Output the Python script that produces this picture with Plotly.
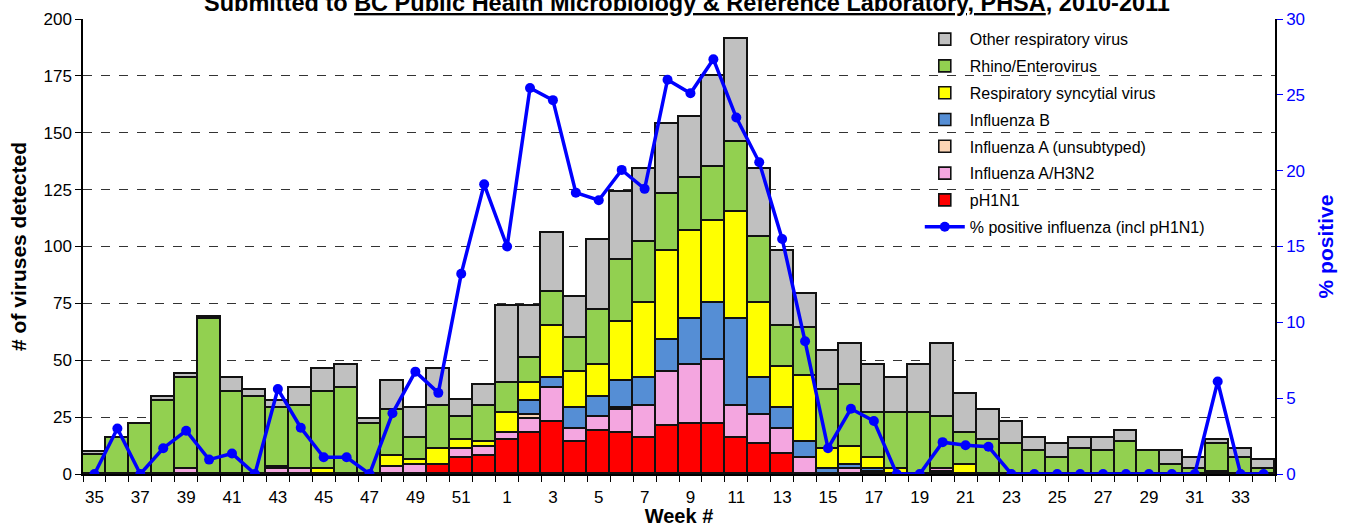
import plotly.graph_objects as go

weeks = [str(w) for w in list(range(35, 53)) + list(range(1, 35))]

ph1n1 = [0,0,0,0,0,0,0,0,0,0,0,0,0,0,0,4,7,8,
         15,18,23,14,19,18,16,21,22,22,16,13,9,
         0,0,0,1,0,0,1,0,0,0,0,0,0,0,0,0,0,0,0,0,0]
h3n2 = [0,0,0,0,2,0,0,0,2,2,0,0,0,3,4,0,4,4,
        3,6,15,6,6,10,14,24,26,28,14,13,11,
        7,0,2,0,0,0,1,0,0,0,0,0,0,0,0,0,0,0,1,0,0]
flu_a_unsub = [0,0,0,0,0,0,0,0,0,0,0,0,0,0,0,0,0,0,
               0,2,0,0,0,1,0,0,0,0,0,0,0,
               0,0,0,0,0,0,0,0,0,0,0,0,0,0,0,0,0,0,0,0,0]
flu_b = [0,0,0,0,0,0,0,0,0,0,0,0,0,0,0,0,0,0,
         0,6,4,9,9,12,12,14,20,25,38,16,9,
         7,2,2,1,0,0,0,0,0,0,0,0,0,0,0,0,0,0,0,0,0]
rsv = [0,0,0,0,0,0,0,0,1,0,2,0,0,5,2,7,4,2,
       9,8,23,16,14,26,33,39,39,36,47,33,18,
       29,9,8,5,2,0,0,4,0,0,0,0,0,0,0,0,0,0,0,0,0]
rhino = [8.5,16,22,32,40,68,36,34,26,28,34,38,22,20,10,19,10,16,
         13,11,15,15,24,27,27,25,23,24,31,29,18,
         21,26,27,20,25,27,23,14,15,13,10,7,11,10,14,10,4,2,12,7,2]
other = [1,0,0,2,2,1,6,3,3,8,10,10,2,13,13,16,7.5,9,
         34,23,26,18,31,30,32,31,27,40,45,30,33,
         15,17,18,21,15,21,32,17,13,10,6,6,5,6,5,0,6,5,2,4,4]
pct_positive = [0,3.0,0,1.7,2.85,0.95,1.35,0,5.6,3.05,1.1,1.1,0,4.0,6.75,5.35,13.2,19.1,
                15.0,25.45,24.65,18.55,18.05,20.05,18.8,26.0,25.1,27.35,23.5,20.55,15.5,
                8.75,1.7,4.3,3.5,0,0,2.1,1.9,1.8,0,0,0,0,0,0,0,0,0,6.1,0,0]

x_pos = list(range(len(weeks)))

series = [
    ("pH1N1", ph1n1, "#FF0000", 7),
    ("Influenza A/H3N2", h3n2, "#F4A6E0", 6),
    ("Influenza A (unsubtyped)", flu_a_unsub, "#FCD5B5", 5),
    ("Influenza B", flu_b, "#558ED5", 4),
    ("Respiratory syncytial virus", rsv, "#FFFF00", 3),
    ("Rhino/Enterovirus", rhino, "#92D050", 2),
    ("Other respiratory virus", other, "#C0C0C0", 1),
]

FONT = "Liberation Sans, Arial, sans-serif"
fig = go.Figure()
for name, vals, col, rank in series:
    fig.add_trace(go.Bar(
        x=x_pos, y=vals, name=name, width=1,
        marker=dict(color=col, line=dict(color="#111111", width=1.6)),
        legendrank=rank, legendgroup=name,
    ))

fig.add_trace(go.Scatter(
    x=x_pos, y=pct_positive, name="% positive influenza (incl pH1N1)",
    mode="lines+markers", yaxis="y2",
    line=dict(color="#0000FF", width=3.5),
    marker=dict(color="#0000FF", size=10),
    legendrank=8, legendgroup="pct",
))

tick_idx = x_pos[::2]
fig.update_layout(
    width=1348, height=527,
    margin=dict(l=83, r=73, t=19, b=53, autoexpand=False),
    barmode="stack", bargap=0,
    plot_bgcolor="white", paper_bgcolor="white",
    font=dict(family=FONT, size=17, color="black"),
    showlegend=True,
    legend=dict(x=0.702, y=0.993, xanchor="left", yanchor="top",
                traceorder="grouped", tracegroupgap=3,
                font=dict(size=16, family=FONT), bgcolor="rgba(0,0,0,0)",
                itemwidth=40),
    xaxis=dict(
        range=[-0.5, len(weeks) - 0.5], automargin=False,
        tickmode="array", tickvals=tick_idx, ticktext=[weeks[i] for i in tick_idx],
        ticks="outside", ticklen=7, tickcolor="rgba(0,0,0,0)",
        showgrid=False, zeroline=False,
        showline=True, linecolor="black", linewidth=1.5,
        tickfont=dict(size=17),
        minor=dict(tickmode="array", tickvals=[i - 0.5 for i in range(len(weeks) + 1)],
                   ticks="outside", ticklen=6, tickcolor="black", tickwidth=1, showgrid=False),
        title=dict(text="<b>Week #</b>", font=dict(size=20), standoff=5),
    ),
    yaxis=dict(
        range=[0, 200], tickmode="array", tickvals=list(range(0, 201, 25)), automargin=False,
        ticks="outside", ticklen=6, tickcolor="black",
        showline=True, linecolor="black", linewidth=1.5,
        showgrid=True, gridcolor="#333333", griddash="dash", gridwidth=1,
        zeroline=False, tickfont=dict(size=17),
        title=dict(text="<b># of viruses detected</b>", font=dict(size=21), standoff=11),
    ),
    yaxis2=dict(
        range=[0, 30], overlaying="y", side="right", automargin=False,
        tickmode="array", tickvals=list(range(0, 31, 5)),
        ticks="outside", ticklen=6, tickcolor="#0000FF",
        showline=True, linecolor="black", linewidth=1.5,
        showgrid=False, zeroline=False,
        tickfont=dict(size=17, color="#0000FF"),
        title=dict(text="<b>% positive</b>", font=dict(size=21, color="#0000FF"), standoff=14),
    ),
)

fig.add_annotation(
    text="<b>Submitted to <u>BC Public Health Microbiology & Reference Laboratory, PHSA</u>, 2010-2011</b>",
    xref="paper", yref="paper", x=0.507, y=1 + 15.5 / 455, yanchor="middle", xanchor="center",
    showarrow=False, font=dict(size=23.5, family=FONT, color="black"),
)

fig.write_html("out.html", config={"displayModeBar": False},
               post_script="document.body.style.margin='0';")
